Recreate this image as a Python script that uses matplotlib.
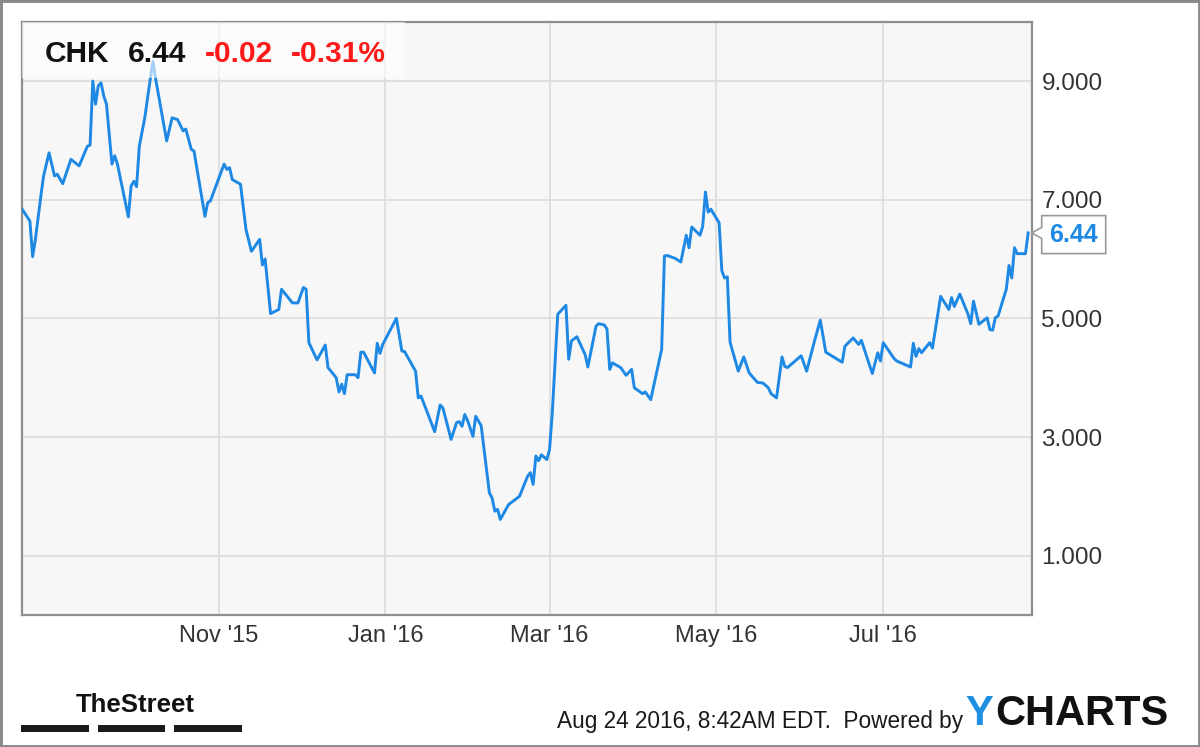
import datetime as dt
import matplotlib
matplotlib.use("Agg")
import matplotlib.pyplot as plt
import matplotlib.dates as mdates
from matplotlib.patches import Rectangle, Polygon
from matplotlib.transforms import IdentityTransform

# ---------------- data ----------------
ticker = "CHK"
last_price_text = "6.44"
change_text = "-0.02"
change_pct_text = "-0.31%"
footer_text = "Aug 24 2016, 8:42AM EDT.  Powered by"

start_date = dt.date(2015, 8, 21)
day_offsets = [0, 3, 4, 5, 7, 8, 10, 12, 13, 15,
               18, 21, 24, 25, 26, 27, 28, 29, 30, 31,
               33, 34, 35, 39, 40, 41, 42, 43, 45, 47,
               48, 49, 53, 55, 57, 59, 60, 62, 63, 67,
               68, 69, 74, 75, 76, 77, 80, 82, 84, 87,
               88, 89, 91, 94, 95, 99, 101, 103, 104, 105,
               108, 111, 112, 115, 116, 117, 118, 119, 122, 123,
               124, 125, 129, 130, 131, 132, 137, 139, 140, 144,
               145, 146, 151, 153, 154, 157, 159, 160, 161, 162,
               163, 165, 166, 168, 171, 172, 173, 174, 175, 178,
               182, 185, 186, 187, 188, 189, 190, 192, 193, 194,
               196, 199, 200, 201, 203, 206, 207, 210, 211, 213,
               214, 215, 216, 219, 221, 223, 224, 227, 228, 230,
               234, 235, 236, 239, 241, 243, 244, 245, 248, 249,
               250, 251, 252, 255, 256, 257, 258, 259, 262, 264,
               266, 269, 271, 273, 274, 276, 278, 279, 280, 285,
               287, 290, 292, 294, 300, 301, 304, 306, 307, 311,
               313, 314, 315, 319, 320, 322, 325, 326, 327, 328,
               329, 332, 333, 336, 339, 340, 341, 343, 346, 347,
               348, 350, 353, 354, 355, 356, 357, 360, 361, 362,
               363, 364, 367, 368]
prices = [6.85, 6.64, 6.04, 6.33, 7.06, 7.40, 7.79, 7.40, 7.43, 7.27,
          7.68, 7.57, 7.90, 7.92, 9.00, 8.61, 8.92, 8.97, 8.75, 8.61,
          7.60, 7.74, 7.60, 6.71, 7.23, 7.31, 7.22, 7.90, 8.38, 9.03,
          9.33, 9.03, 7.99, 8.38, 8.35, 8.16, 8.19, 7.85, 7.82, 6.72,
          6.95, 6.98, 7.60, 7.51, 7.54, 7.34, 7.26, 6.50, 6.13, 6.33,
          5.90, 6.00, 5.08, 5.15, 5.49, 5.26, 5.26, 5.52, 5.49, 4.59,
          4.30, 4.55, 4.17, 4.00, 3.76, 3.89, 3.73, 4.05, 4.05, 4.00,
          4.43, 4.43, 4.08, 4.58, 4.41, 4.56, 5.00, 4.45, 4.44, 4.11,
          3.66, 3.69, 3.09, 3.54, 3.49, 2.96, 3.24, 3.26, 3.18, 3.38,
          3.28, 3.01, 3.35, 3.19, 2.06, 1.97, 1.75, 1.78, 1.61, 1.86,
          2.00, 2.34, 2.40, 2.20, 2.68, 2.60, 2.70, 2.62, 2.79, 3.41,
          5.07, 5.22, 4.31, 4.62, 4.69, 4.39, 4.18, 4.87, 4.91, 4.89,
          4.82, 4.14, 4.25, 4.17, 4.04, 4.14, 3.83, 3.73, 3.76, 3.63,
          4.48, 6.05, 6.06, 6.01, 5.95, 6.40, 6.19, 6.54, 6.40, 6.55,
          7.13, 6.79, 6.84, 6.61, 5.80, 5.68, 5.70, 4.60, 4.11, 4.35,
          4.08, 3.92, 3.91, 3.83, 3.73, 3.66, 4.35, 4.19, 4.17, 4.37,
          4.11, 4.64, 4.97, 4.43, 4.26, 4.53, 4.67, 4.56, 4.63, 4.07,
          4.42, 4.28, 4.59, 4.32, 4.28, 4.24, 4.18, 4.58, 4.36, 4.49,
          4.42, 4.59, 4.50, 5.37, 5.15, 5.35, 5.20, 5.41, 5.07, 4.91,
          5.29, 4.90, 5.01, 4.81, 4.80, 5.01, 5.04, 5.49, 5.89, 5.68,
          6.19, 6.09, 6.09, 6.44]

x_tick_dates = ["2015-11-01", "2016-01-01", "2016-03-01", "2016-05-01", "2016-07-01"]
x_tick_labels = ["Nov '15", "Jan '16", "Mar '16", "May '16", "Jul '16"]
y_ticks = [1, 3, 5, 7, 9]
y_tick_labels = ["1.000", "3.000", "5.000", "7.000", "9.000"]
x_range = ["2015-08-21 00:00", "2016-08-24 07:00"]
y_range = [0, 10]

# ---------------- styling ----------------
BLUE = "#1e88e5"
GRID = "#dedede"
FRAME = "#8e8e8e"
plt.rcParams["font.family"] = ["Liberation Sans", "DejaVu Sans"]

W, H = 1200, 747
fig = plt.figure(figsize=(W / 100, H / 100), dpi=100)
fig.patch.set_facecolor("white")

ax_l, ax_r, ax_t, ax_b = 21.7, 1031.7, 21.7, 615.0
ax = fig.add_axes([ax_l / W, 1 - ax_b / H, (ax_r - ax_l) / W, (ax_b - ax_t) / H])
ax.set_facecolor("#f7f7f7")

dates = [start_date + dt.timedelta(days=d) for d in day_offsets]
ax.plot(dates, prices, color=BLUE, lw=2.1, solid_joinstyle="round", zorder=3)

ax.set_xlim(mdates.datestr2num(x_range[0]), mdates.datestr2num(x_range[1]))
ax.set_ylim(*y_range)

ax.set_xticks([mdates.datestr2num(d) for d in x_tick_dates])
ax.set_xticklabels(x_tick_labels)
ax.set_yticks(y_ticks)
ax.set_yticklabels(y_tick_labels)
ax.yaxis.tick_right()
ax.tick_params(axis="y", length=0, pad=7, labelsize=17.5, labelcolor="#333333")
ax.tick_params(axis="x", length=0, pad=7, labelsize=17, labelcolor="#333333")
ax.grid(True, color=GRID, lw=1.3, zorder=1)
ax.set_axisbelow(True)
for s in ax.spines.values():
    s.set_color(FRAME)
    s.set_linewidth(1.6)

# header overlay box
ax.add_patch(Rectangle((0, 1 - (78 - ax_t) / (ax_b - ax_t)), (405 - ax_l) / (ax_r - ax_l),
                       (78 - ax_t) / (ax_b - ax_t), transform=ax.transAxes,
                       facecolor="white", alpha=0.6, edgecolor="none", zorder=4))

hdr_y = 1 - 62 / H
fig.text(45 / W, hdr_y, ticker, fontsize=21.5, fontweight="bold", color="#111111", va="baseline", zorder=5)
fig.text(128 / W, hdr_y, last_price_text, fontsize=21.5, fontweight="bold", color="#111111", va="baseline", zorder=5)
fig.text(205 / W, hdr_y, change_text, fontsize=21.5, fontweight="bold", color="#ff1a1a", va="baseline", zorder=5)
fig.text(291 / W, hdr_y, change_pct_text, fontsize=21.5, fontweight="bold", color="#ff1a1a", va="baseline", zorder=5)

# last price flag
apex_x = ax.transAxes.transform((1, 0))[0]
apex_y = ax.transData.transform((mdates.date2num(dates[-1]), prices[-1]))[1]
flag = Polygon([(apex_x, apex_y), (apex_x + 10, apex_y + 5.5), (apex_x + 10, apex_y + 17.3),
                (apex_x + 74, apex_y + 17.3), (apex_x + 74, apex_y - 20.7), (apex_x + 10, apex_y - 20.7),
                (apex_x + 10, apex_y - 5.5)], closed=True, transform=IdentityTransform(),
               facecolor="white", edgecolor="#999999", lw=1.2, clip_on=False)
fig.add_artist(flag)
fig.text((apex_x + 42) / W, (apex_y - 1.7) / H, last_price_text, fontsize=18, fontweight="bold",
         color=BLUE, ha="center", va="center")

# footer
fig.text(75.8 / W, 1 - 712 / H, "TheStreet", fontsize=18.5, fontweight="bold",
         color="#111111", va="baseline")
for x0, x1 in [(21, 89), (97.6, 165.3), (174, 242)]:
    fig.add_artist(Rectangle((x0 / W, 1 - 731.7 / H), (x1 - x0) / W, 6.7 / H,
                             transform=fig.transFigure, facecolor="#1a1a1a", edgecolor="none"))
fig.text(557 / W, 1 - 728 / H, footer_text, fontsize=16.3, color="#1a1a1a", va="baseline")
fig.text(965.5 / W, 1 - 725 / H, "Y", fontsize=30, fontweight="bold", color="#1e8fe1", va="baseline")
fig.text(995 / W, 1 - 725 / H, "CHARTS", fontsize=30, fontweight="bold", color="#111111", va="baseline")

# outer frame
fig.add_artist(Rectangle((0, 0), 1, 1, transform=fig.transFigure, fill=False,
                         edgecolor="#8a8a8a", lw=3.5))

fig.savefig("out.png", dpi=100, facecolor="white")
